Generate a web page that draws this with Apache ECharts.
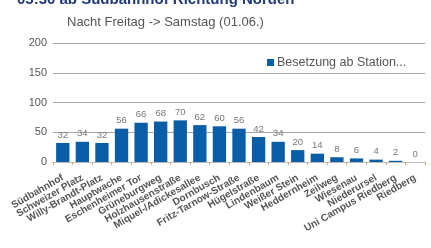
<!DOCTYPE html>
<html>
<head>
<meta charset="utf-8">
<script src="https://cdn.jsdelivr.net/npm/echarts@6/dist/echarts.min.js"></script>
<style>
  html, body { margin: 0; padding: 0; background: #fff; }
  #chart { width: 431px; height: 248px; }
</style>
</head>
<body>
<div id="chart"></div>
<script>
const stations = ['Südbahnhof', 'Schweizer Platz', 'Willy-Brandt-Platz', 'Hauptwache', 'Eschenheimer Tor',
  'Grüneburgweg', 'Holzhausenstraße', 'Miquel-/Adickesallee', 'Dornbusch', 'Fritz-Tarnow-Straße',
  'Hügelstraße', 'Lindenbaum', 'Weißer Stein', 'Heddernheim', 'Zeilweg', 'Wiesenau', 'Niederursel',
  'Uni Campus Riedberg', 'Riedberg'];
const besetzung = [32, 34, 32, 56, 66, 68, 70, 62, 60, 56, 42, 34, 20, 14, 8, 6, 4, 2, 0];
const yTicks = [0, 50, 100, 150, 200];

const chart = echarts.init(document.getElementById('chart'));
const option = {
  animation: false,
  title: [{
    text: '05:30 ab Südbahnhof Richtung Norden',
    left: 12,
    top: -13,
    textStyle: { color: '#1f3a78', fontSize: 15, fontWeight: 'bold', fontFamily: 'Liberation Sans' }
  }, {
    text: 'Nacht Freitag -> Samstag (01.06.)',
    left: 62,
    top: 11,
    textStyle: { color: '#555', fontSize: 13, fontWeight: 'normal', fontFamily: 'Liberation Sans' }
  }],
  legend: {
    data: ['Besetzung ab Station...'],
    top: 51,
    left: 262,
    itemWidth: 7,
    itemHeight: 7,
    itemGap: 3,
    icon: 'rect',
    textStyle: { color: '#555', fontSize: 12.5, fontFamily: 'Liberation Sans', padding: [0, 0, 0, -2] }
  },
  grid: { left: 53, right: 6, top: 43, bottom: 86 },
  xAxis: {
    type: 'category',
    data: stations,
    axisLine: { lineStyle: { color: '#bbb' } },
    axisTick: { show: true, length: 3, lineStyle: { color: '#d4a77c' } },
    axisLabel: {
      interval: 0,
      rotate: 30,
      margin: 15,
      color: '#555',
      fontSize: 10,
      fontWeight: 'bold',
      fontFamily: 'Liberation Sans'
    }
  },
  yAxis: {
    type: 'value',
    min: yTicks[0],
    max: yTicks[yTicks.length - 1],
    interval: 50,
    axisLine: { show: false },
    axisTick: { show: false },
    axisLabel: { color: '#555', fontSize: 11, margin: 6, fontFamily: 'Liberation Sans' },
    splitLine: { lineStyle: { color: '#a8a8a8' } }
  },
  series: [{
    name: 'Besetzung ab Station...',
    type: 'bar',
    data: besetzung,
    barCategoryGap: '32%',
    itemStyle: { color: '#0a5ea8' },
    label: { show: true, position: 'top', color: '#777', fontSize: 9.5, distance: 3, fontFamily: 'Liberation Sans' }
  }]
};
chart.setOption(option);
</script>
</body>
</html>
